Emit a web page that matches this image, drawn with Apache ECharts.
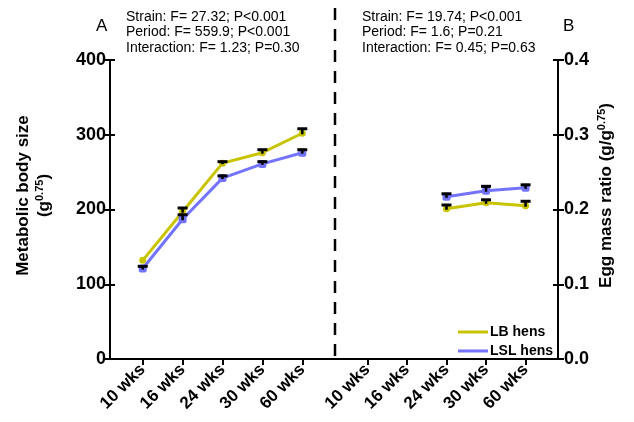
<!DOCTYPE html>
<html>
<head>
<meta charset="utf-8">
<script src="https://cdn.jsdelivr.net/npm/echarts@6/dist/echarts.min.js"></script>
<style>
  html, body { margin: 0; padding: 0; background: #fff; }
  #chart { width: 634px; height: 422px; }
</style>
</head>
<body>
<div id="chart"></div>
<script>
const cats = ['10 wks', '16 wks', '24 wks', '30 wks', '60 wks']

// panel A: metabolic body size (g^0.75)
const lbBody = [132, 197, 262, 276, 302]
const lbBodyErr = [null, 5, 2, 4, 6]
const lslBody = [121, 187, 242, 261, 276]
const lslBodyErr = [3, 6, 3, 3, 4]

// panel B: egg mass ratio (g/g^0.75)
const lbEgg = [null, null, 0.201, 0.209, 0.205]
const lbEggErr = [null, null, 0.005, 0.004, 0.006]
const lslEgg = [null, null, 0.217, 0.225, 0.229]
const lslEggErr = [null, null, 0.004, 0.006, 0.004]

const leftTicks = [0, 100, 200, 300, 400]
const rightTicks = [0, 0.1, 0.2, 0.3, 0.4]

const statsA = ['Strain: F= 27.32; P<0.001', 'Period: F= 559.9; P<0.001', 'Interaction: F= 1.23; P=0.30']
const statsB = ['Strain: F= 19.74; P<0.001', 'Period: F= 1.6; P=0.21', 'Interaction: F= 0.45; P=0.63']

const FONT = 'Liberation Sans, Arial, sans-serif'
const YELLOW = '#c8c400'
const BLUE = '#7373ff'

const pts = (vals) => vals.map((v, i) => [i, v]).filter(p => p[1] != null)
const errPts = (vals, errs) => vals.map((v, i) => [i, v, errs[i]]).filter(p => p[1] != null && p[2] != null)

function errorBar(params, api) {
  const x = api.value(0)
  const top = api.coord([x, api.value(1) + api.value(2)])
  const mid = api.coord([x, api.value(1)])
  return {
    type: 'group',
    children: [
      { type: 'line', shape: { x1: mid[0], y1: mid[1] + 1, x2: top[0], y2: top[1] }, style: { stroke: '#000', lineWidth: 2.5 } },
      { type: 'line', shape: { x1: top[0] - 5, y1: top[1], x2: top[0] + 5, y2: top[1] }, style: { stroke: '#000', lineWidth: 3 } }
    ]
  }
}

const chart = echarts.init(document.getElementById('chart'))

const xAxisBase = {
  type: 'value',
  min: -0.82,
  max: 4.82,
  splitLine: { show: false },
  axisLine: { onZero: false, lineStyle: { color: '#000', width: 2 } },
  axisTick: { customValues: [0, 1, 2, 3, 4], length: 6, lineStyle: { color: '#000', width: 2 } },
  axisLabel: {
    customValues: [0, 1, 2, 3, 4],
    formatter: v => cats[v],
    rotate: 45,
    margin: 8,
    color: '#000',
    fontFamily: FONT,
    fontWeight: 'bold',
    fontSize: 17
  }
}

const nameRich = {
  b: { fontFamily: FONT, fontWeight: 'bold', fontSize: 17, lineHeight: 21, color: '#000' },
  sup: { fontFamily: FONT, fontWeight: 'bold', fontSize: 11, lineHeight: 11, verticalAlign: 'top', color: '#000' }
}

const yAxisBase = {
  type: 'value',
  splitLine: { show: false },
  axisLine: { show: true, onZero: false, lineStyle: { color: '#000', width: 2 } },
  axisTick: { show: true, length: 6, lineStyle: { color: '#000', width: 2 } },
  axisLabel: { color: '#000', fontFamily: FONT, fontWeight: 'bold', fontSize: 18, margin: 4 },
  nameLocation: 'middle',
  nameRotate: 90,
  nameTextStyle: { rich: nameRich, padding: [0, 0, 0, 28] }
}

// inner half of the crossing ticks
const innerTicks = {
  type: 'value',
  splitLine: { show: false },
  axisLine: { show: false, onZero: false },
  axisLabel: { show: false },
  axisTick: { show: true, inside: true, length: 5, lineStyle: { color: '#000', width: 2 } }
}

const statText = (lines, x) => lines.map((t, i) => ({
  type: 'text',
  left: x,
  top: 10 + i * 15.5,
  style: { text: t, fontFamily: FONT, fontSize: 14, fill: '#000' }
}))

chart.setOption({
  animation: false,
  grid: [
    { left: 110, top: 60, width: 225, height: 299 },
    { left: 335, top: 60, width: 223, height: 299 }
  ],
  xAxis: [
    Object.assign({ gridIndex: 0 }, xAxisBase),
    Object.assign({ gridIndex: 1 }, xAxisBase)
  ],
  yAxis: [
    Object.assign({}, yAxisBase, {
      gridIndex: 0,
      position: 'left',
      min: leftTicks[0],
      max: leftTicks[leftTicks.length - 1],
      interval: 100,
      name: '{b|Metabolic body size}\n{b|(g}{sup|0.75}{b|)}',
      nameGap: 55
    }),
    Object.assign({}, yAxisBase, {
      gridIndex: 1,
      position: 'right',
      min: rightTicks[0],
      max: rightTicks[rightTicks.length - 1],
      interval: 0.1,
      axisLabel: Object.assign({}, yAxisBase.axisLabel, { formatter: v => v.toFixed(1), margin: 6 }),
      name: '{b|Egg mass ratio (g/g}{sup|0.75}{b|)}',
      nameGap: 38
    }),
    Object.assign({}, innerTicks, { gridIndex: 0, position: 'left', min: 0, max: 400, interval: 100 }),
    Object.assign({}, innerTicks, { gridIndex: 1, position: 'right', min: 0, max: 0.4, interval: 0.1 })
  ],
  legend: {
    orient: 'vertical',
    left: 453,
    top: 320,
    itemWidth: 30,
    itemHeight: 3,
    itemGap: 5,
    icon: 'rect',
    data: ['LB hens', 'LSL hens'],
    textStyle: { fontFamily: FONT, fontWeight: 'bold', fontSize: 14, color: '#000', padding: [0, 0, 0, -3] }
  },
  graphic: [
    {
      type: 'line',
      shape: { x1: 335, y1: 8, x2: 335, y2: 359 },
      style: { stroke: '#000', lineWidth: 2.5, lineDash: [12, 9] }
    },
    { type: 'text', left: 96, top: 18, style: { text: 'A', fontFamily: FONT, fontSize: 17, fill: '#000' } },
    { type: 'text', left: 563, top: 18, style: { text: 'B', fontFamily: FONT, fontSize: 17, fill: '#000' } }
  ].concat(statText(statsA, 126), statText(statsB, 362)),
  series: [
    {
      name: 'LB hens', type: 'line', xAxisIndex: 0, yAxisIndex: 0,
      data: pts(lbBody), symbol: 'circle', symbolSize: 7,
      lineStyle: { color: YELLOW, width: 3 }, itemStyle: { color: YELLOW }
    },
    {
      name: 'LSL hens', type: 'line', xAxisIndex: 0, yAxisIndex: 0,
      data: pts(lslBody), symbol: 'roundRect', symbolSize: 8,
      lineStyle: { color: BLUE, width: 3 }, itemStyle: { color: BLUE }
    },
    {
      name: 'LB hens', type: 'line', xAxisIndex: 1, yAxisIndex: 1,
      data: pts(lbEgg), symbol: 'circle', symbolSize: 7,
      lineStyle: { color: YELLOW, width: 3 }, itemStyle: { color: YELLOW }
    },
    {
      name: 'LSL hens', type: 'line', xAxisIndex: 1, yAxisIndex: 1,
      data: pts(lslEgg), symbol: 'roundRect', symbolSize: 8,
      lineStyle: { color: BLUE, width: 3 }, itemStyle: { color: BLUE }
    },
    { type: 'custom', xAxisIndex: 0, yAxisIndex: 0, renderItem: errorBar, data: errPts(lbBody, lbBodyErr), z: 5 },
    { type: 'custom', xAxisIndex: 0, yAxisIndex: 0, renderItem: errorBar, data: errPts(lslBody, lslBodyErr), z: 5 },
    { type: 'custom', xAxisIndex: 1, yAxisIndex: 1, renderItem: errorBar, data: errPts(lbEgg, lbEggErr), z: 5 },
    { type: 'custom', xAxisIndex: 1, yAxisIndex: 1, renderItem: errorBar, data: errPts(lslEgg, lslEggErr), z: 5 }
  ]
})
</script>
</body>
</html>
